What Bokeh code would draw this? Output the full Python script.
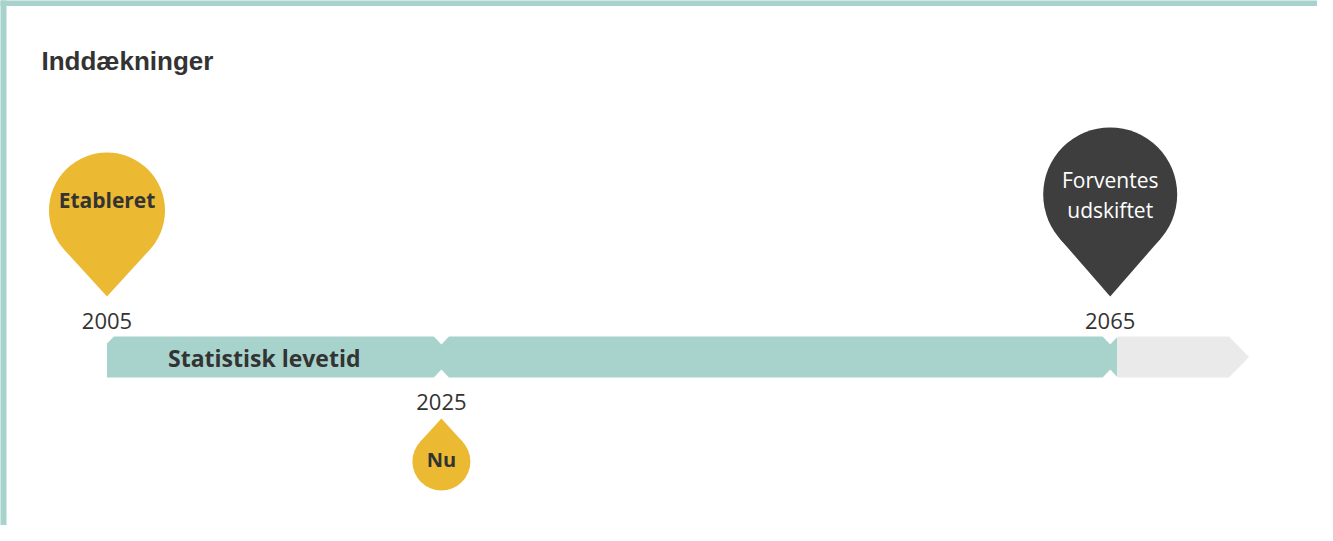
import math
from bokeh.plotting import figure
from bokeh.models import Range1d
from bokeh.core.properties import value
from bokeh.embed import file_html
from bokeh.resources import INLINE

# ---- data ----
title_text = "Inddækninger"
milestone_years = [2005, 2025, 2065]
year_labels = ["2005", "2025", "2065"]
pin_labels = ["Etableret", "Nu", "Forventes\nudskiftet"]
bar_label = "Statistisk levetid"
start_year = 2005
now_year = 2025
end_year = 2065
extension_end = 2073.3

# ---- styling / geometry (pixels) ----
W, H = 1317, 525
PX_PER_YEAR = 16.72
X0_PAGE = 114.5           # page x of start_year
TEAL = "#A8D2CC"
YELLOW = "#EBB932"
DARK = "#3E3E3E"
GREY = "#EAEAEA"
TEXT = "#333333"
FONT = "Open Sans"

x_start = start_year - (X0_PAGE - 8) / PX_PER_YEAR
x_end = x_start + W / PX_PER_YEAR


def dx(px):
    return px / PX_PER_YEAR


def page_x(px):
    return x_start + (px - 8) / PX_PER_YEAR


p = figure(width=W, height=H, output_backend="svg", toolbar_location=None,
           x_range=Range1d(x_start, x_end), y_range=Range1d(H + 8, 8),
           min_border=0, outline_line_color=None, background_fill_color="white",
           border_fill_color="white")
p.axis.visible = False
p.grid.visible = False

# card border (top and left)
p.quad(left=[page_x(7)], right=[page_x(14)], top=[7], bottom=[H + 8],
       fill_color=TEAL, line_color=None)
p.quad(left=[page_x(7)], right=[x_end], top=[7], bottom=[13.5],
       fill_color=TEAL, line_color=None)

# title
p.text(x=[page_x(49)], y=[68], text=[title_text], text_font=value("Liberation Sans"),
       text_font_style="bold", text_font_size="26px", text_color=TEXT,
       text_align="left", text_baseline="middle")

# timeline bar
y_top, y_bot = 344, 385
y_mid = (y_top + y_bot) / 2
ch = 7  # chamfer px
teal_end = end_year + dx(7)
p.patch(x=[start_year, start_year + dx(ch), teal_end, teal_end, start_year],
        y=[y_top + ch, y_top, y_top, y_bot, y_bot], fill_color=TEAL, line_color=None)

# grey extension with arrow head
grey_start = end_year + dx(7)
p.patch(x=[grey_start, extension_end - dx(20), extension_end, extension_end - dx(20), grey_start],
        y=[y_top, y_top, y_mid, y_bot, y_bot], fill_color=GREY, line_color=None)

# notches at now and end
for yr in [now_year, end_year]:
    hw, dep = 8, 8
    p.patch(x=[yr - dx(hw), yr + dx(hw), yr], y=[y_top - 0.5, y_top - 0.5, y_top + dep],
            fill_color="white", line_color=None)
    p.patch(x=[yr - dx(hw), yr + dx(hw), yr], y=[y_bot + 0.5, y_bot + 0.5, y_bot - dep],
            fill_color="white", line_color=None)

p.text(x=[start_year + dx(61)], y=[y_mid + 1], text=[bar_label], text_font=value(FONT),
       text_font_style="bold", text_font_size="23px", text_color=TEXT,
       text_align="left", text_baseline="middle")

# year labels
year_y = [328, 409, 328]
p.text(x=milestone_years, y=year_y, text=year_labels, text_font=value(FONT),
       text_font_size="22px", text_color=TEXT, text_align="center", text_baseline="middle")


# pins
def pin(year, cy, r, tip_y, color):
    d = abs(tip_y - cy)
    sgn = 1 if tip_y > cy else -1
    cos_t = r / d
    sin_t = math.sqrt(1 - cos_t ** 2)
    tx = r * sin_t
    ty = cy + sgn * r * cos_t
    p.patch(x=[year - dx(tx), year, year + dx(tx), year],
            y=[ty, tip_y, ty, cy], fill_color=color, line_color=None)
    p.ellipse(x=[year], y=[cy], width=[dx(2 * r)], height=[2 * r],
              fill_color=color, line_color=None)


pin(milestone_years[0], 218, 58, 304, YELLOW)
pin(milestone_years[1], 469, 29, 426, YELLOW)
pin(milestone_years[2], 202, 67, 304, DARK)

lines_end = pin_labels[2].split("\n")
p.text(x=[milestone_years[0]], y=[207], text=[pin_labels[0]], text_font=value(FONT),
       text_font_style="bold", text_font_size="21px", text_color=TEXT,
       text_align="center", text_baseline="middle")
p.text(x=[milestone_years[1]], y=[467], text=[pin_labels[1]], text_font=value(FONT),
       text_font_style="bold", text_font_size="20px", text_color=TEXT,
       text_align="center", text_baseline="middle")
p.text(x=[milestone_years[2]] * 2, y=[187, 217], text=lines_end, text_font=value(FONT),
       text_font_size="21px", text_color="white",
       text_align="center", text_baseline="middle")

open("out.html", "w").write(file_html(p, INLINE))
